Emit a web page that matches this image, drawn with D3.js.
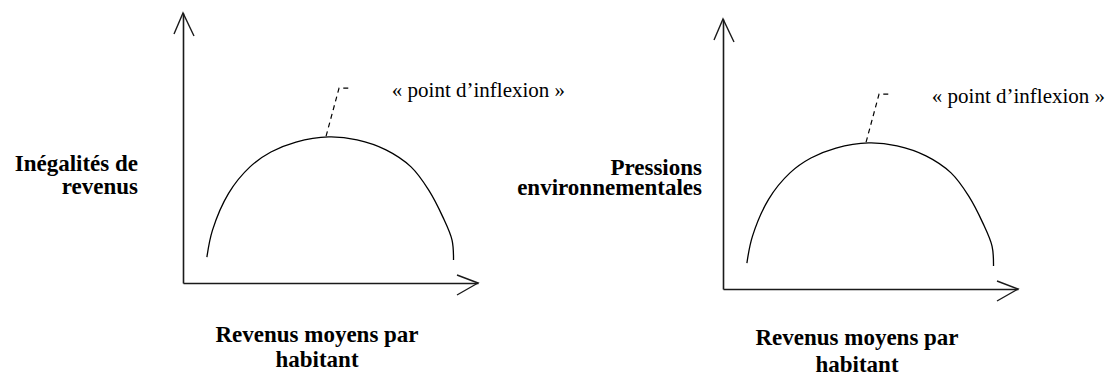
<!DOCTYPE html>
<html>
<head>
<meta charset="utf-8">
<script src="https://cdn.jsdelivr.net/npm/d3@7"></script>
<style>
  body { margin: 0; background: #fff; }
  svg { display: block; }
</style>
</head>
<body>
<div id="chart"></div>
<script>
const WIDTH = 1111;
const HEIGHT = 374;
const SERIF = "'Liberation Serif'";

// both panels share the same axis size
const AXIS_W = 295;
const AXIS_H = 270;

// data (arbitrary units 0-100 along each axis)
const X_DOMAIN = [0, 100];
const Y_DOMAIN = [0, 100];
const CURVE_X = [8.1, 10.0, 15.5, 22.7, 29.8, 38.3, 49.4, 59.0, 68.8, 77.3, 83.3, 88.1, 91.2, 91.7];
const CURVE_Y = [9.6, 19.6, 33.3, 43.0, 48.5, 52.2, 54.1, 53.0, 49.3, 43.0, 34.4, 24.4, 15.9, 8.5];
const LEADER_X = [48.5, 52.9, 56.6];
const LEADER_Y = [54.4, 72.2, 72.2];
const NOTE_POS = [70.8, 69];
const NOTE_TEXT = "« point d’inflexion »";
const X_TITLE = ["Revenus moyens par", "habitant"];
const Y_TITLES = [["Inégalités de", "revenus"], ["Pressions", "environnementales"]];

// panel layout
const PANELS = [
    {origin: [183, 283], yTitle: Y_TITLES[0], yTitleX: -45, yTitleY: -112, yTitleGap: 22.5, xTitleY: 59, xTitleGap: 25},
    {origin: [723, 289], yTitle: Y_TITLES[1], yTitleX: -21, yTitleY: -114, yTitleGap: 20, xTitleY: 56, xTitleGap: 27}
];

const svg = d3.select("#chart")
    .append("svg")
      .attr("width", WIDTH)
      .attr("height", HEIGHT);

const X_SCALE = d3.scaleLinear().domain(X_DOMAIN).range([0, AXIS_W]);
const Y_SCALE = d3.scaleLinear().domain(Y_DOMAIN).range([0, -AXIS_H]);

const curvePts = CURVE_X.map((x, i) => [x, CURVE_Y[i]]);
const leaderPts = LEADER_X.map((x, i) => [x, LEADER_Y[i]]);

const line = d3.line()
    .x(d => X_SCALE(d[0]))
    .y(d => Y_SCALE(d[1]));

PANELS.forEach(p => {
    const g = svg.append("g")
        .attr("transform", "translate(" + p.origin[0] + "," + p.origin[1] + ")");

    // axes: plain lines with open arrowheads, no ticks
    g.append("g")
        .call(d3.axisBottom(X_SCALE).tickValues([]).tickSizeOuter(0))
        .select(".domain").attr("stroke", "#1a1a1a").attr("stroke-width", 1.6);
    g.append("g")
        .attr("transform", "translate(0," + (-AXIS_H) + ")")
        .call(d3.axisLeft(d3.scaleLinear().domain(Y_DOMAIN).range([AXIS_H, 0])).tickValues([]).tickSizeOuter(0))
        .select(".domain").attr("stroke", "#1a1a1a").attr("stroke-width", 1.6);

    const xEnd = X_SCALE(X_DOMAIN[1]);
    const yEnd = Y_SCALE(Y_DOMAIN[1]);
    g.append("path")
        .attr("d", "M" + (xEnd - 21) + "," + (-8) + "L" + xEnd + ",0L" + (xEnd - 21) + "," + 12)
        .attr("fill", "none").attr("stroke", "#1a1a1a").attr("stroke-width", 1.4);
    g.append("path")
        .attr("d", "M-9," + (yEnd + 21) + "L0," + yEnd + "L11," + (yEnd + 23))
        .attr("fill", "none").attr("stroke", "#1a1a1a").attr("stroke-width", 1.4);

    // hump curve
    g.append("path")
        .datum(curvePts)
        .attr("d", line.curve(d3.curveCatmullRom))
        .attr("fill", "none")
        .attr("stroke", "#000")
        .attr("stroke-width", 1.3);

    // dashed leader to the note
    g.append("path")
        .datum(leaderPts)
        .attr("d", line.curve(d3.curveLinear))
        .attr("fill", "none")
        .attr("stroke", "#000")
        .attr("stroke-width", 1.2)
        .attr("stroke-dasharray", "5,4");

    g.append("text")
        .attr("x", X_SCALE(NOTE_POS[0]))
        .attr("y", Y_SCALE(NOTE_POS[1]))
        .style("font-family", SERIF)
        .style("font-size", "21px")
        .text(NOTE_TEXT);

    // y title, right aligned
    p.yTitle.forEach((t, i) => {
        g.append("text")
            .attr("text-anchor", "end")
            .attr("x", p.yTitleX)
            .attr("y", p.yTitleY + i * p.yTitleGap)
            .style("font-family", SERIF)
            .style("font-weight", "bold")
            .style("font-size", "23px")
            .text(t);
    });

    // x title, centred under the axis
    X_TITLE.forEach((t, i) => {
        g.append("text")
            .attr("text-anchor", "middle")
            .attr("x", 134)
            .attr("y", p.xTitleY + i * p.xTitleGap)
            .style("font-family", SERIF)
            .style("font-weight", "bold")
            .style("font-size", "23px")
            .text(t);
    });
});
</script>
</body>
</html>
